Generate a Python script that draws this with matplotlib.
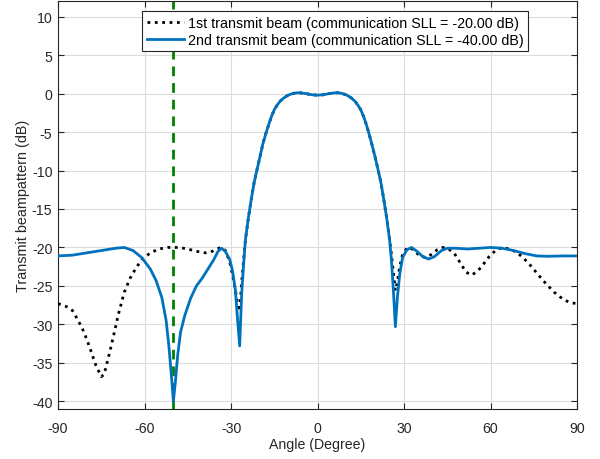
import matplotlib
matplotlib.use("Agg")
import matplotlib.pyplot as plt

plt.rcParams['font.family'] = ['Liberation Sans', 'DejaVu Sans']
plt.rcParams['axes.unicode_minus'] = False

# 2nd transmit beam (communication SLL = -40 dB)
ang2 = [-90, -85, -80, -75, -70, -67, -64, -61, -58, -56, -54, -52.5, -51.5, -50.5, -50,
        -49.3, -48.5, -47.5, -46, -44, -42, -40, -38, -36, -34.5, -33.3, -32, -30.5, -29.5,
        -28.5, -27.8, -27, -26.3, -25.6, -25, -24, -23, -22, -21, -20, -19, -18, -17, -16,
        -15, -14, -13, -12, -11, -10, -9, -8, -7, -6, -4, -2, 0, 2, 4, 6, 7, 8, 9, 10, 11,
        12, 13, 14, 15, 16, 17, 18, 19, 20, 21, 22, 23, 24, 25, 25.6, 26.3, 27, 27.7, 28.5,
        29.5, 31, 32.6, 34.5, 36.5, 38.5, 40.5, 43, 45, 48, 52, 56, 60, 64, 68, 72, 76, 80,
        85, 90]
val2 = [-21.1, -21.0, -20.7, -20.4, -20.1, -20.0, -20.4, -21.3, -22.8, -24.3, -26.5, -29.5,
        -33, -37.5, -40, -37.5, -34, -31, -28.8, -26.6, -25.0, -24.0, -22.8, -21.6, -20.5,
        -20.1, -20.5, -21.5, -23, -25.5, -29, -32.8, -26, -22, -19.0, -16.2, -13.8, -11.6,
        -9.9, -8.3, -6.6, -5.3, -4.1, -3.0, -2.1, -1.5, -1.0, -0.65, -0.38, -0.18, -0.04,
        0.06, 0.11, 0.1, 0.0, -0.15, -0.2, -0.15, 0.0, 0.1, 0.11, 0.06, -0.04, -0.18, -0.38,
        -0.65, -1.0, -1.5, -2.1, -3.0, -4.1, -5.4, -6.8, -8.3, -9.9, -11.6, -13.8, -16.2,
        -19.0, -21.5, -25.5, -30.3, -26.5, -23.5, -21.3, -20.3, -20, -20.5, -21.2, -21.5,
        -21.2, -20.4, -20.1, -20.1, -20.2, -20.1, -20.0, -20.1, -20.4, -20.8, -21.1, -21.15,
        -21.1, -21.1]

# 1st transmit beam (communication SLL = -20 dB)
ang1 = [-90, -87, -85, -83, -81, -79, -77, -75, -74, -73, -72, -71, -69, -67, -65, -63, -61,
        -58, -55, -52, -48, -45, -42, -39, -37, -35, -33.3, -32, -30.5, -29.5, -28.5, -27.5,
        -27, -26.3, -25.6, -25, -24, -23, -22, -21, -20, -19, -18, -17, -16, -15, -14, -13,
        -12, -11, -10, -9, -8, -7, -6, -4, -2, 0, 2, 4, 6, 7, 8, 9, 10, 11, 12, 13, 14, 15,
        16, 17, 18, 19, 20, 21, 22, 23, 24, 25, 25.6, 26.3, 27, 27.7, 28.5, 29.5, 31, 32,
        33.5, 35.5, 37.5, 39.5, 41.5, 43.5, 45.5, 47.5, 49.5, 51.5, 53.4, 55.5, 57.5, 59.5,
        62, 64.2, 66.5, 69, 71.5, 74, 76, 78, 80, 82, 84, 86, 88, 90]
val1 = [-27.3, -27.7, -28.2, -29.5, -31, -33, -35.2, -36.8, -36.5, -35, -33.5, -31.9, -28.6,
        -25.8, -24, -22.7, -21.6, -20.7, -20.2, -20.0, -20.0, -20.2, -20.5, -20.7, -20.6,
        -20.2, -20.0, -20.4, -21.8, -23.5, -25.5, -27.8, -28.3, -24.5, -21.5, -19.0, -16.2,
        -13.8, -11.6, -9.9, -8.3, -6.6, -5.3, -4.1, -3.0, -2.1, -1.5, -1.0, -0.65, -0.38,
        -0.18, -0.04, 0.06, 0.11, 0.1, 0.0, -0.15, -0.2, -0.15, 0.0, 0.1, 0.11, 0.06, -0.04,
        -0.18, -0.38, -0.65, -1.0, -1.5, -2.1, -3.0, -4.1, -5.4, -6.8, -8.3, -9.9, -11.6,
        -13.8, -16.2, -19.0, -20.8, -23.2, -25.6, -24.5, -22.5, -20.9, -20.1, -20.0, -20.4,
        -21.1, -21.3, -20.9, -20.3, -20.0, -20.2, -20.8, -22, -23.2, -23.6, -23.1, -22.2,
        -21.2, -20.3, -20.0, -20.2, -20.6, -21.4, -22.4, -23.3, -24.2, -25, -25.8, -26.4,
        -26.9, -27.2, -27.3]

target_angle = -50
xticks = [-90, -60, -30, 0, 30, 60, 90]
yticks = [-40, -35, -30, -25, -20, -15, -10, -5, 0, 5, 10]
label1 = '1st transmit beam (communication SLL = -20.00 dB)'
label2 = '2nd transmit beam (communication SLL = -40.00 dB)'

fig = plt.figure(figsize=(6, 4.6), dpi=100)
ax = fig.add_axes([0.0967, 0.1087, 0.865, 0.8863])

ax.axvline(target_angle, color='#008000', linestyle=(0, (3.5, 2.5)), linewidth=2, zorder=2)
ax.plot(ang1, val1, color='black', linestyle=':', linewidth=2, label=label1, zorder=3)
ax.plot(ang2, val2, color='#0072BD', linestyle='-', linewidth=2, label=label2, zorder=3.5)

ax.set_xlim(-90, 90)
ax.set_ylim(-41, 12)
ax.set_xticks(xticks)
ax.set_yticks(yticks)
ax.grid(True, color='#dcdcdc', linewidth=0.8)
ax.set_axisbelow(True)
ax.tick_params(direction='in', top=True, right=True, labelsize=10.2, length=4,
               color='#262626', labelcolor='#262626')
ax.tick_params(axis='x', pad=8.5)
ax.tick_params(axis='y', pad=4)
for s in ax.spines.values():
    s.set_color('#262626')
    s.set_linewidth(0.8)

ax.set_xlabel('Angle (Degree)', fontsize=10.2, color='#262626', labelpad=1.5)
ax.set_ylabel('Transmit beampattern (dB)', fontsize=10.4, color='#262626', labelpad=1)

leg = ax.legend(loc='upper center', bbox_to_anchor=(0.534, 1 - 10 / 408), fontsize=10.3,
                fancybox=False, edgecolor='#262626', framealpha=1, borderpad=0.3,
                handlelength=2.6, handletextpad=0.3, labelspacing=0.25, borderaxespad=0)
leg.get_frame().set_linewidth(0.8)

fig.savefig('out.png', dpi=100)
